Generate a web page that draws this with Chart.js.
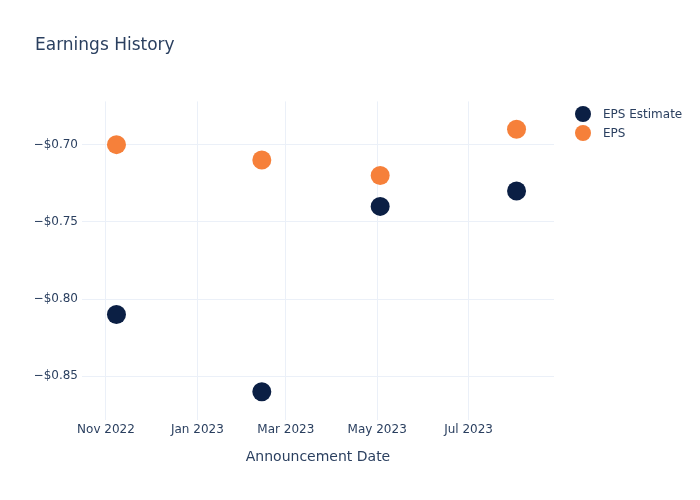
<!DOCTYPE html>
<html>
<head>
<meta charset="utf-8">
<script src="https://cdn.jsdelivr.net/npm/chart.js@4/dist/chart.umd.min.js"></script>
<style>
  html, body { margin: 0; padding: 0; background: #fff; }
  #wrap { width: 700px; height: 500px; position: relative; }
</style>
</head>
<body>
<div id="wrap"><canvas id="c" width="700" height="500"></canvas></div>
<script>
// ---- data ----
const announcementDates = ["2022-11-08", "2023-02-13", "2023-05-03", "2023-08-02"];
const epsEstimate = [-0.81, -0.86, -0.74, -0.73];
const epsActual = [-0.70, -0.71, -0.72, -0.69];
const xTickDates = ["2022-11-01", "2023-01-01", "2023-03-01", "2023-05-01", "2023-07-01"];
const xTickLabels = ["Nov 2022", "Jan 2023", "Mar 2023", "May 2023", "Jul 2023"];
const yTickValues = [-0.70, -0.75, -0.80, -0.85];
const seriesNames = ["EPS Estimate", "EPS"];
const seriesColors = ["#0b1f44", "#f6803a"];

const toTs = s => Date.parse(s + "T00:00:00Z");
const xMin = toTs("2022-10-16");
const xMax = toTs("2023-08-27");

const TEXT = "#2a3f5f";
const GRID = "#ebf0f8";
const FONT = "'DejaVu Sans', Verdana, Arial, sans-serif";

const mk = vals => announcementDates.map((d, i) => ({ x: toTs(d), y: vals[i] }));

// legend drawn at the right, plotly-style, from the chart's own datasets
const sideLegend = {
  id: "sideLegend",
  afterDraw(chart) {
    const ctx = chart.ctx;
    ctx.save();
    ctx.font = "12px " + FONT;
    ctx.textBaseline = "middle";
    ctx.textAlign = "left";
    chart.data.datasets.forEach((ds, i) => {
      const y = 114 + i * 19;
      ctx.beginPath();
      ctx.arc(583, y, 8, 0, Math.PI * 2);
      ctx.fillStyle = ds.backgroundColor;
      ctx.fill();
      ctx.fillStyle = TEXT;
      ctx.fillText(ds.label, 603, y + 1);
    });
    ctx.restore();
  }
};

new Chart(document.getElementById("c"), {
  type: "scatter",
  data: {
    datasets: [
      { label: seriesNames[0], data: mk(epsEstimate), backgroundColor: seriesColors[0], borderColor: seriesColors[0],
        pointRadius: 9.5, pointHoverRadius: 9.5, borderWidth: 0 },
      { label: seriesNames[1], data: mk(epsActual), backgroundColor: seriesColors[1], borderColor: seriesColors[1],
        pointRadius: 9.5, pointHoverRadius: 9.5, borderWidth: 0 }
    ]
  },
  plugins: [sideLegend],
  options: {
    responsive: false,
    animation: false,
    layout: { padding: { left: 35, top: 0, right: 146, bottom: 0 } },
    plugins: {
      tooltip: { enabled: false },
      title: {
        display: true, text: "Earnings History", align: "start", color: TEXT,
        font: { family: FONT, size: 17, weight: "normal" },
        padding: { top: 35, bottom: 46 }
      },
      legend: { display: false }
    },
    scales: {
      x: {
        type: "linear", min: xMin, max: xMax,
        grid: { color: GRID, drawTicks: false, lineWidth: 1 },
        border: { display: false },
        afterBuildTicks: s => { s.ticks = xTickDates.map(d => ({ value: toTs(d) })); },
        afterFit: s => { s.height = 80.5; },
        ticks: {
          color: TEXT, font: { family: FONT, size: 12 }, padding: 3, maxRotation: 0, autoSkip: false,
          callback: function (v) { const i = xTickDates.findIndex(d => toTs(d) === v); return i >= 0 ? xTickLabels[i] : ""; }
        },
        title: { display: true, text: "Announcement Date", color: TEXT, font: { family: FONT, size: 14 }, padding: { top: 4, bottom: 34 } }
      },
      y: {
        type: "linear", min: -0.878, max: -0.672,
        grid: { color: GRID, drawTicks: false, lineWidth: 1 },
        border: { display: false },
        afterBuildTicks: s => { s.ticks = yTickValues.map(v => ({ value: v })); },
        afterFit: s => { s.width = 47; },
        ticks: {
          color: TEXT, font: { family: FONT, size: 12 }, padding: 4,
          callback: v => (v < 0 ? "\u2212" : "") + "$" + Math.abs(v).toFixed(2)
        }
      }
    }
  }
});
</script>
</body>
</html>
